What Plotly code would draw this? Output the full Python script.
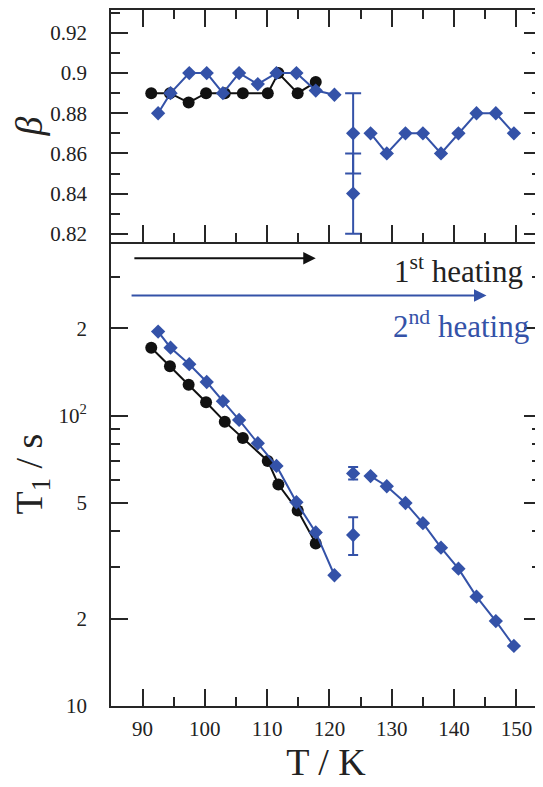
import math
import plotly.graph_objects as go
from plotly.subplots import make_subplots

# ---------------- data ----------------
# 1st heating (black circles)
T_first = [91.4, 94.4, 97.4, 100.2, 103.2, 106.1, 110.1, 111.8, 114.9, 117.8]
beta_first = [0.89, 0.89, 0.8853, 0.89, 0.89, 0.89, 0.89, 0.90, 0.89, 0.8955]
T1_first = [171.3, 147.9, 127.8, 111.2, 95.3, 83.7, 69.8, 57.9, 47.1, 36.3]

# 2nd heating (blue diamonds), below the transition
T_second_a = [92.5, 94.5, 97.5, 100.3, 102.9, 105.5, 108.5, 111.5, 114.7, 117.8, 120.8]
beta_second_a = [0.88, 0.89, 0.90, 0.90, 0.89, 0.90, 0.8945, 0.90, 0.90, 0.8913, 0.8892]
T1_second_a = [194.6, 171.3, 150.3, 130.5, 112.1, 96.6, 80.3, 67.1, 50.3, 39.6, 28.2]

# 2nd heating, two-component point with error bars
T_second_b = [123.8, 123.8]
beta_second_b = [0.87, 0.84]
beta_second_b_err = [0.02, 0.02]
T1_second_b = [63.2, 38.8]
T1_second_b_plus = [3.3, 5.9]
T1_second_b_minus = [2.9, 5.7]

# 2nd heating, above the transition
T_second_c = [126.6, 129.2, 132.2, 135.0, 137.9, 140.7, 143.6, 146.7, 149.6]
beta_second_c = [0.87, 0.86, 0.87, 0.87, 0.86, 0.87, 0.88, 0.88, 0.87]
T1_second_c = [61.9, 57.1, 50.0, 42.6, 35.1, 29.7, 23.8, 19.6, 16.1]

# ticks
x_major = [90, 100, 110, 120, 130, 140, 150]
x_tick_text = ["90", "100", "110", "120", "130", "140", "150"]
beta_major = [0.82, 0.84, 0.86, 0.88, 0.90, 0.92]
beta_tick_text = ["0.82", "0.84", "0.86", "0.88", "0.9", "0.92"]
T1_major = [10, 20, 50, 100, 200]
T1_tick_text = ["10", "2", "5", "10<sup>2</sup>", "2"]
T1_minor = [30, 40, 60, 70, 80, 90, 300]

# arrows / labels
arrow_first = {"start": 88.45, "end": 117.8, "level": 348}
arrow_second = {"start": 88.0, "end": 145.2, "level": 259}

# ---------------- style ----------------
BLUE = "#3452a8"
BLACK = "#111111"
AXC = "#262626"
FONT = "Liberation Serif"

# the page body has an 8 px margin, so the figure is drawn 8 px in from the corner
OFF = 8
W, H = 543 - OFF, 787 - OFF
PLOT_L, PLOT_R, PLOT_T, PLOT_B = 111, 543, 8, 698.3   # page pixels
ML = PLOT_L - OFF
MR = 0
MT = PLOT_T - OFF
MB = 787 - PLOT_B
PW = PLOT_R - PLOT_L
PH = PLOT_B - PLOT_T

fig = make_subplots(rows=2, cols=1, shared_xaxes=True, vertical_spacing=0,
                    row_heights=[238.3 - PLOT_T, 460])

def paper_x(px):
    return (px - PLOT_L) / PW

def paper_y(py):
    return (PLOT_B - py) / PH

def series(x, y, color, symbol, size, row, line=True, err=None):
    fig.add_trace(go.Scatter(x=x, y=y, mode="lines+markers" if line else "markers",
                             line=dict(color=color, width=2),
                             marker=dict(symbol=symbol, size=size, color=color),
                             error_y=err, showlegend=False), row=row, col=1)

# top panel: beta
series(T_first, beta_first, BLACK, "circle", 12, 1)
series(T_second_a, beta_second_a, BLUE, "diamond", 11, 1)
series(T_second_b, beta_second_b, BLUE, "diamond", 11, 1, line=False,
       err=dict(type="data", array=beta_second_b_err, color=BLUE, thickness=2, width=8))
series(T_second_c, beta_second_c, BLUE, "diamond", 11, 1)

# bottom panel: T1
series(T_first, T1_first, BLACK, "circle", 12, 2)
series(T_second_a, T1_second_a, BLUE, "diamond", 11, 2)
series(T_second_b, T1_second_b, BLUE, "diamond", 11, 2, line=False,
       err=dict(type="data", symmetric=False, array=T1_second_b_plus,
                arrayminus=T1_second_b_minus, color=BLUE, thickness=2, width=5))
series(T_second_c, T1_second_c, BLUE, "diamond", 11, 2)

tickfont = dict(family=FONT, size=21, color="#222")
common_axis = dict(showline=True, linecolor=AXC, linewidth=1.8, showgrid=False,
                   zeroline=False, ticks="inside", tickcolor=AXC, tickwidth=1.5,
                   ticklen=17, tickfont=tickfont)
minor_x = dict(dtick=5, tick0=85, ticks="inside", ticklen=9, tickcolor=AXC, tickwidth=1.5)
title_font = dict(family=FONT, size=38, color="#222")

xrange = [84.94, 153.95]
fig.update_xaxes(range=xrange, tickmode="array", tickvals=x_major, **common_axis)
fig.update_xaxes(row=1, col=1, mirror="ticks", showticklabels=False, minor=minor_x)
fig.update_xaxes(row=2, col=1, mirror=False, ticktext=x_tick_text,
                 ticklabelstandoff=3, minor=minor_x,
                 title=dict(text="T / K", font=title_font, standoff=6))

fig.update_yaxes(row=1, col=1, range=[0.8158, 0.9314], tickmode="array",
                 tickvals=beta_major, ticktext=beta_tick_text, mirror="ticks",
                 ticklabelstandoff=18,
                 minor=dict(dtick=0.01, tick0=0.81, ticks="inside", ticklen=9,
                            tickcolor=AXC, tickwidth=1.5),
                 title=dict(text="<i>β</i>", font=title_font, standoff=8),
                 **common_axis)
fig.update_yaxes(row=2, col=1, type="log", range=[1.0, 2.597], tickmode="array",
                 tickvals=T1_major, ticktext=T1_tick_text, mirror="ticks",
                 ticklabelstandoff=18,
                 minor=dict(tickmode="array", tickvals=T1_minor, ticks="inside",
                            ticklen=9, tickcolor=AXC, tickwidth=1.5),
                 title=dict(text="T<sub>1</sub> / s", font=title_font, standoff=8),
                 **common_axis)

# arrows
for arr, col in ((arrow_first, BLACK), (arrow_second, BLUE)):
    lv = math.log10(arr["level"])
    fig.add_annotation(x=arr["end"], y=lv, ax=arr["start"], ay=lv,
                       xref="x2", yref="y2", axref="x2", ayref="y2",
                       text="", showarrow=True, arrowhead=2, arrowsize=1.25,
                       arrowwidth=2, arrowcolor=col, standoff=0, startstandoff=0)

fig.add_annotation(xref="paper", yref="paper", x=paper_x(527), y=paper_y(265),
                   xanchor="right", yanchor="middle", showarrow=False,
                   text="1<sup>st</sup> heating",
                   font=dict(family=FONT, size=31, color="#222"))
fig.add_annotation(xref="paper", yref="paper", x=paper_x(533), y=paper_y(320),
                   xanchor="right", yanchor="middle", showarrow=False,
                   text="2<sup>nd</sup> heating",
                   font=dict(family=FONT, size=31, color=BLUE))

fig.update_layout(width=W, height=H, margin=dict(l=ML, r=MR, t=MT, b=MB - OFF),
                  paper_bgcolor="white", plot_bgcolor="white",
                  font=dict(family=FONT, color="#222"))

fig.write_html("out.html")
